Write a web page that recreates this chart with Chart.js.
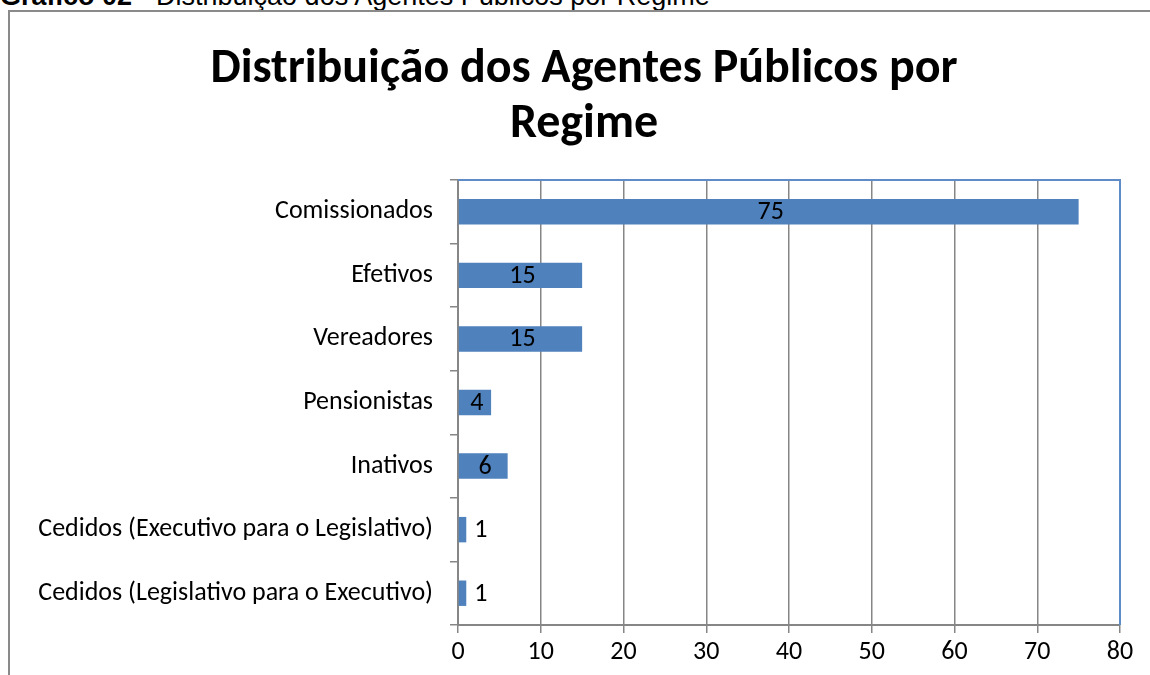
<!DOCTYPE html>
<html>
<head>
<meta charset="utf-8">
<script src="https://cdn.jsdelivr.net/npm/chart.js@4/dist/chart.umd.min.js"></script>
<style>
  body { margin: 0; background: #fff; width: 1150px; height: 675px; overflow: hidden; position: relative; }
  #caption { position: absolute; left: 0; top: -19px; font-family: "Liberation Sans", Arial, sans-serif; font-size: 27px; color: #000; white-space: nowrap; }
  #frame { position: absolute; left: 8px; top: 10px; width: 1160px; height: 700px; border: 2px solid #8a8a8a; box-sizing: border-box; }
  #wrap { position: absolute; left: 10px; top: 12px; width: 1140px; height: 663px; }
</style>
</head>
<body>
<div id="caption"><b>Gráfico 02</b> - Distribuição dos Agentes Públicos por Regime</div>
<div id="frame"></div>
<div id="wrap"><canvas id="chart"></canvas></div>
<script>
// chart data
const categories = [
    'Comissionados',
    'Efetivos',
    'Vereadores',
    'Pensionistas',
    'Inativos',
    'Cedidos (Executivo para o Legislativo)',
    'Cedidos (Legislativo para o Executivo)'
];
const values = [75, 15, 15, 4, 6, 1, 1];
const xTicks = [0, 10, 20, 30, 40, 50, 60, 70, 80];
const titleLines = ['Distribuição dos Agentes Públicos por', 'Regime'];

const FONT = 'Carlito, Lato, sans-serif';
const gridGray = '#868686';

// title, value labels and the blue top/right border of the plot area
const extras = {
    id: 'extras',
    afterDatasetsDraw(chart) {
        const ctx = chart.ctx;
        const area = chart.chartArea;
        ctx.save();
        ctx.strokeStyle = '#5f8cc6';
        ctx.lineWidth = 2;
        ctx.beginPath();
        ctx.moveTo(area.left, area.top);
        ctx.lineTo(area.right, area.top);
        ctx.lineTo(area.right, area.bottom);
        ctx.stroke();

        const meta = chart.getDatasetMeta(0);
        ctx.fillStyle = '#000';
        ctx.font = '26px ' + FONT;
        ctx.textBaseline = 'middle';
        meta.data.forEach((bar, i) => {
            const v = values[i];
            if (v < 3) {
                ctx.textAlign = 'left';
                ctx.fillText(String(v), bar.x + 8, bar.y + 1);
            } else {
                ctx.textAlign = 'center';
                ctx.fillText(String(v), (bar.base + bar.x) / 2 + 2, bar.y + 1);
            }
        });

        // chart title (centred a bit right of the canvas middle, like the original)
        ctx.font = 'bold 48px ' + FONT;
        ctx.textAlign = 'center';
        titleLines.forEach((t, i) => ctx.fillText(t, 574, 58 + i * 55));
        ctx.restore();
    }
};

new Chart(document.getElementById('chart'), {
    type: 'bar',
    data: {
        labels: categories,
        datasets: [{
            data: values,
            backgroundColor: '#4f81bd',
            borderWidth: 0,
            categoryPercentage: 0.4,
            barPercentage: 1.0
        }]
    },
    options: {
        indexAxis: 'y',
        responsive: true,
        maintainAspectRatio: false,
        animation: false,
        layout: { padding: { left: 0, right: 30, top: 168, bottom: 0 } },
        plugins: {
            legend: { display: false },
            tooltip: { enabled: false },
            title: { display: false }
        },
        scales: {
            x: {
                min: 0,
                max: 80,
                afterBuildTicks(axis) {
                    axis.ticks = xTicks.map(v => ({ value: v }));
                },
                afterFit(axis) { axis.height = 50; },
                grid: {
                    color: gridGray,
                    lineWidth: 1.5,
                    tickLength: 8,
                    drawTicks: true
                },
                border: { color: gridGray, width: 2 },
                ticks: {
                    color: '#000',
                    font: { family: FONT, size: 26 },
                    padding: 4
                }
            },
            y: {
                afterFit(axis) { axis.width = 448; },
                grid: {
                    offset: true,
                    drawOnChartArea: false,
                    drawTicks: true,
                    tickLength: 8,
                    color: gridGray,
                    lineWidth: 1.5
                },
                border: { color: gridGray, width: 2 },
                ticks: {
                    color: '#000',
                    font: { family: FONT, size: 26 },
                    padding: 17
                }
            }
        }
    },
    plugins: [extras]
});
</script>
</body>
</html>
